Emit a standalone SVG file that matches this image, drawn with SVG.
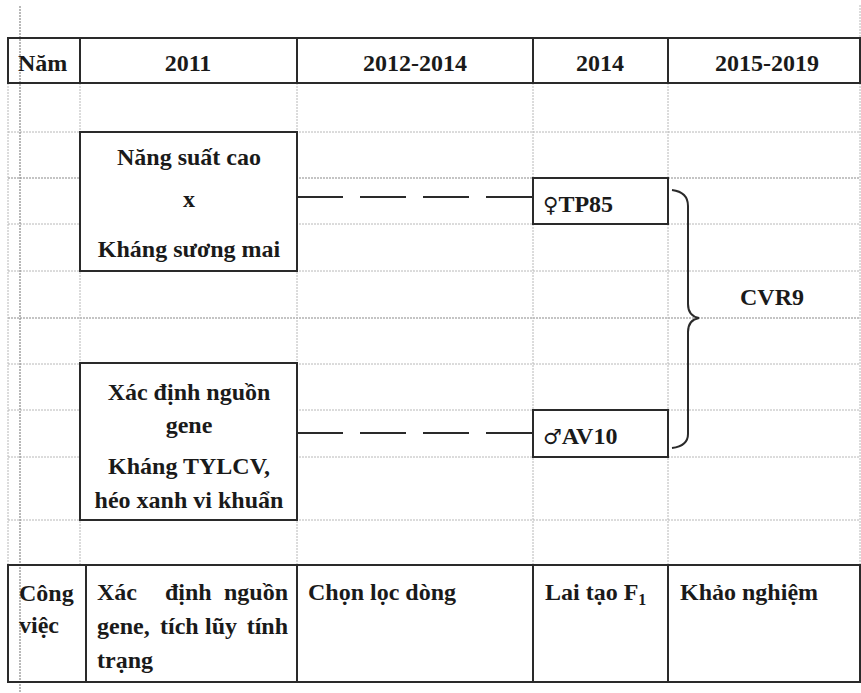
<svg xmlns="http://www.w3.org/2000/svg" width="861" height="693" viewBox="0 0 861 693">
<style>
text{font-family:"Liberation Serif","Times New Roman",serif;font-weight:bold;font-size:24px;fill:#1a1a1a}
.c{text-anchor:middle}
.e{text-anchor:end}
.sym{font-family:"DejaVu Sans",sans-serif;font-weight:normal;font-size:21px}
.b{fill:#fff;stroke:#2a2a2a;stroke-width:2}
.t{fill:none;stroke:#2a2a2a;stroke-width:2}
.g{stroke:#b8b8b8;stroke-width:1;stroke-dasharray:2 1;fill:none}
.gd{stroke:#8a8a8a;stroke-width:1.2;stroke-dasharray:2 1;fill:none}
.dash{stroke:#2a2a2a;stroke-width:2;stroke-dasharray:46 17;fill:none}
</style>
<rect width="861" height="693" fill="#fff"/>
<g id="grid">
<path class="g" d="M8 132H860M8 224H860M8 271H860M8 364H860M8 410H860M8 457H860M8 520H860"/>
<path class="gd" d="M8 178H860M8 318H860"/>
<path class="g" d="M8 83V565M80 83V565M297 83V565M533 83V565M668 83V565M860 5V565"/>
<path class="gd" d="M20 6V693"/>
</g>
<g id="header">
<rect class="t" x="8" y="38" width="852" height="45"/>
<path class="t" d="M80 38V83M297 38V83M533 38V83M668 38V83"/>
<text x="18" y="71">Năm</text>
<text class="c" x="188" y="71">2011</text>
<text class="c" x="415" y="71">2012-2014</text>
<text class="c" x="600" y="71">2014</text>
<text class="c" x="767" y="71">2015-2019</text>
</g>
<g id="footer">
<rect class="t" x="8" y="565" width="852" height="117"/>
<path class="t" d="M86 565V682M297 565V682M533 565V682M668 565V682"/>
<text x="19" y="601">Công</text>
<text x="19" y="633">việc</text>
<text x="97" y="600">Xác</text>
<text x="165" y="600">định</text>
<text class="e" x="288" y="600">nguồn</text>
<text x="97" y="634">gene,</text>
<text x="160" y="634">tích</text>
<text x="205" y="634">lũy</text>
<text class="e" x="288" y="634">tính</text>
<text x="97" y="668">trạng</text>
<text x="308" y="600">Chọn lọc dòng</text>
<text x="545" y="600">Lai tạo F<tspan font-size="16" dy="5">1</tspan></text>
<text x="680" y="600">Khảo nghiệm</text>
</g>
<g id="connectors">
<path class="dash" d="M297 197H533"/>
<path class="dash" d="M297 433H533"/>
<path class="t" d="M672 190Q688 192 688 206V304Q688 316 699 318Q688 320 688 332V434Q688 446 672 448"/>
</g>
<g id="node-parent1">
<rect class="b" x="80" y="132" width="217" height="139"/>
<text class="c" x="189" y="165">Năng suất cao</text>
<text class="c" x="189" y="207">x</text>
<text class="c" x="189" y="257">Kháng sương mai</text>
</g>
<g id="node-parent2">
<rect class="b" x="80" y="363" width="217" height="157"/>
<text class="c" x="189" y="400">Xác định nguồn</text>
<text class="c" x="189" y="433">gene</text>
<text class="c" x="189" y="474">Kháng TYLCV,</text>
<text class="c" x="189" y="508">héo xanh vi khuẩn</text>
</g>
<g id="node-tp85">
<rect class="b" x="533" y="178" width="135" height="46"/>
<text x="543" y="212"><tspan class="sym">♀</tspan>TP85</text>
</g>
<g id="node-av10">
<rect class="b" x="533" y="410" width="135" height="47"/>
<text x="543" y="444"><tspan class="sym">♂</tspan>AV10</text>
</g>
<g id="node-cvr9">
<text x="740" y="305">CVR9</text>
</g>
</svg>
